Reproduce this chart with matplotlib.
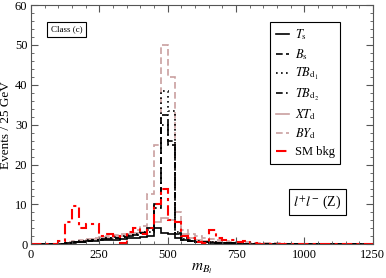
import numpy as np
import matplotlib
matplotlib.use("Agg")
import matplotlib.pyplot as plt
from matplotlib.ticker import MultipleLocator
from matplotlib.lines import Line2D

plt.rcParams['font.family'] = ['Liberation Serif', 'DejaVu Serif']
plt.rcParams['mathtext.fontset'] = 'stix'

edges = np.arange(0, 1275, 25)

T_s = [0, 0, 0, 0, 0.1, 0.3, 0.5, 0.6, 0.8, 0.9,
       1.0, 1.1, 1.2, 1.3, 1.5, 1.7, 1.9, 2.2, 4.1, 2.8,
       2.7, 1.5, 1.0, 0.8, 0.6, 0.5, 0.4, 0.35, 0.3, 0.25,
       0.2, 0.2, 0.15, 0.15, 0.1, 0.1, 0.05, 0.05, 0.05, 0.05,
       0, 0, 0, 0, 0, 0, 0, 0, 0, 0]
B_s = [0, 0, 0, 0, 0, 0.2, 0.4, 0.6, 0.8, 1.0,
       1.2, 1.4, 1.6, 1.8, 2.0, 2.3, 2.8, 4.0, 10.0, 32.5,
       25.0, 2.5, 1.2, 0.8, 0.6, 0.5, 0.4, 0.3, 0.3, 0.2,
       0.2, 0.1, 0.1, 0.1, 0.1, 0.1, 0.05, 0.05, 0.05, 0.05,
       0, 0, 0, 0, 0, 0, 0, 0, 0, 0]
TB_d1 = [0, 0, 0, 0, 0.1, 0.3, 0.5, 0.8, 1.0, 1.2,
         1.4, 1.6, 1.8, 2.0, 2.3, 2.6, 3.0, 3.5, 10.0, 38.5,
         33.5, 3.0, 1.5, 1.0, 0.8, 0.6, 0.5, 0.4, 0.3, 0.3,
         0.2, 0.2, 0.15, 0.1, 0.1, 0.1, 0.05, 0.05, 0.05, 0.05,
         0.05, 0, 0, 0, 0, 0, 0, 0, 0, 0]
TB_d2 = [0, 0, 0, 0, 0.1, 0.3, 0.5, 0.7, 0.9, 1.1,
         1.3, 1.5, 1.7, 1.9, 2.1, 2.4, 2.8, 3.2, 9.0, 30.0,
         26.0, 2.8, 1.4, 0.9, 0.7, 0.6, 0.5, 0.4, 0.3, 0.25,
         0.2, 0.2, 0.15, 0.1, 0.1, 0.1, 0.05, 0.05, 0.05, 0.05,
         0, 0, 0, 0, 0, 0, 0, 0, 0, 0]
XT_d = [0, 0, 0, 0, 0.1, 0.4, 0.7, 0.9, 1.1, 1.3,
        1.5, 1.7, 2.0, 2.2, 2.5, 2.8, 3.2, 4.0, 5.5, 6.6,
        6.2, 5.5, 2.5, 1.5, 1.0, 0.8, 0.6, 0.5, 0.4, 0.3,
        0.3, 0.2, 0.1, 0.1, 0.1, 0.1, 0.1, 0.05, 0.05, 0.05,
        0.05, 0, 0, 0, 0, 0, 0, 0, 0, 0]
BY_d = [0, 0, 0, 0, 0.1, 0.5, 0.8, 1.0, 1.3, 1.5,
        1.8, 2.0, 2.3, 2.6, 3.0, 3.5, 4.5, 12.5, 25.0, 50.0,
        42.0, 8.2, 3.5, 2.5, 2.0, 1.6, 1.3, 1.0, 0.8, 0.7,
        0.6, 0.5, 0.4, 0.35, 0.3, 0.3, 0.25, 0.2, 0.2, 0.15,
        0.15, 0.1, 0.1, 0.1, 0.1, 0.05, 0.05, 0.05, 0.05, 0.05]
SM_bkg = [0, 0, 0, 0, 0.8, 5.5, 9.5, 4.0, 5.0, 5.0,
          2.0, 2.5, 2.0, 0.3, 3.0, 4.0, 2.5, 4.0, 10.0, 14.0,
          6.0, 5.5, 2.0, 1.5, 0.5, 0.3, 3.6, 1.5, 1.0, 1.0,
          0.5, 0.8, 0.3, 0.1, 0.1, 0.1, 0, 0, 0, 0,
          0, 0, 0, 0, 0, 0, 0, 0, 0, 0]

pink = '#c9a0a0'

fig = plt.figure(figsize=(3.86, 2.78), dpi=100)
ax = fig.add_axes([0.080, 0.121, 0.886, 0.861])

series = [
    (XT_d, r'$XT_{\rm d}$', dict(color=pink, linestyle='-', lw=1.2)),
    (BY_d, r'$BY_{\rm d}$', dict(color=pink, linestyle=(0, (4, 2)), lw=1.2)),
    (T_s, r'$T_{\rm s}$', dict(color='black', linestyle='-', lw=1.2)),
    (B_s, r'$B_{\rm s}$', dict(color='black', linestyle=(0, (4, 2)), lw=1.2)),
    (TB_d1, r'$TB_{\rm d_1}$', dict(color='black', linestyle=(0, (1, 2)), lw=1.2)),
    (TB_d2, r'$TB_{\rm d_2}$', dict(color='black', linestyle=(0, (4, 2, 1, 2)), lw=1.2)),
    (SM_bkg, 'SM bkg', dict(color='red', linestyle=(0, (5, 2, 1.5, 2)), lw=1.5)),
]
for vals, lab, st in series:
    ax.stairs(vals, edges, baseline=None, label=lab, **st)

order = [r'$T_{\rm s}$', r'$B_{\rm s}$', r'$TB_{\rm d_1}$', r'$TB_{\rm d_2}$',
         r'$XT_{\rm d}$', r'$BY_{\rm d}$', 'SM bkg']
style = {lab: st for _, lab, st in series}
leg_handles = [Line2D([], [], **style[l]) for l in order]
leg = ax.legend(leg_handles, order, loc='upper right', bbox_to_anchor=(0.905, 0.929),
                borderaxespad=0, fancybox=False, edgecolor='black', framealpha=1,
                fontsize=9, handlelength=1.0, handletextpad=0.5, labelspacing=0.36,
                borderpad=0.45)
leg.get_frame().set_linewidth(0.8)

ax.set_xlim(0, 1250)
ax.set_ylim(0, 60)
ax.xaxis.set_major_locator(MultipleLocator(250))
ax.xaxis.set_minor_locator(MultipleLocator(50))
ax.yaxis.set_major_locator(MultipleLocator(10))
ax.yaxis.set_minor_locator(MultipleLocator(2))
ax.tick_params(which='both', direction='in', top=True, right=True, labelsize=9,
               color='#555555')
ax.tick_params(axis='y', which='major', pad=2.5)
ax.tick_params(which='major', length=5)
ax.tick_params(which='minor', length=2.5)
for s in ax.spines.values():
    s.set_color('#555555')

ax.set_ylabel('Events / 25 GeV', fontsize=9.5)
ax.yaxis.set_label_coords(-0.054, 0.5)
ax.set_xlabel(r'$m_{B_l}$', fontsize=11, labelpad=0)

ax.text(0.058, 0.897, 'Class (c)', transform=ax.transAxes, fontsize=6.5,
        va='center', ha='left',
        bbox=dict(boxstyle='square,pad=0.4', fc='white', ec='black', lw=0.8))
ax.text(0.838, 0.177, r'$l^{+}l^{-}$ (Z)', transform=ax.transAxes, fontsize=10,
        va='center', ha='center',
        bbox=dict(boxstyle='square,pad=0.3', fc='white', ec='black', lw=0.8))

fig.savefig('out.png', dpi=100)
